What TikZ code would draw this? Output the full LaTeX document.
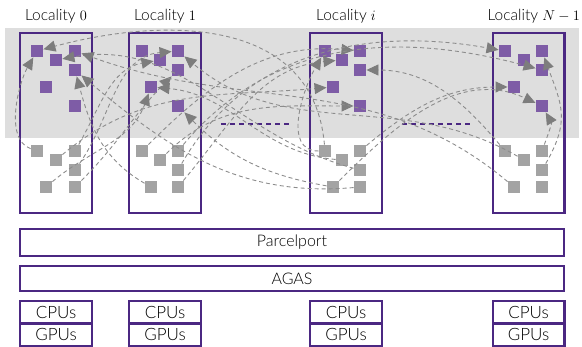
\documentclass[tikz,border=0pt]{standalone}
\usepackage{fontspec}
\setmainfont{Lato Light}
\usetikzlibrary{arrows.meta}

\definecolor{boxpurple}{RGB}{75,40,130}
\definecolor{cellpurple}{RGB}{126,92,166}
\definecolor{cellgray}{RGB}{163,163,163}
\definecolor{bandgray}{RGB}{222,222,222}
\definecolor{linkgray}{RGB}{140,140,140}
\definecolor{tipgray}{RGB}{125,125,125}

\tikzset{
  locbox/.style={draw=boxpurple, line width=2.4pt, minimum width=71.6pt,
    minimum height=179.6pt, inner sep=0pt},
  layerbox/.style={draw=boxpurple, line width=2.4pt, inner sep=0pt,
    minimum width=543.6pt, font=\fontsize{16}{18}\selectfont},
  unitbox/.style={draw=boxpurple, line width=2.4pt, inner sep=0pt,
    minimum width=71.6pt, minimum height=22.3pt, font=\fontsize{17}{19}\selectfont},
  title/.style={font=\fontsize{15.5}{17}\selectfont, inner sep=0pt},
  task/.style={fill=cellpurple, minimum size=12.5pt, inner sep=0pt},
  idle/.style={fill=cellgray, minimum size=12.5pt, inner sep=0pt},
  link/.style={draw=linkgray, line width=0.9pt, dash pattern=on 4pt off 3pt,
    -{Triangle[length=12pt,width=11pt,color=tipgray]}},
  gap/.style={draw=boxpurple, line width=2.6pt, dash pattern=on 5pt off 4pt},
}

% one locality's work items: #1 prefix, #2..#5 column positions
\newcommand\cellgroup[5]{%
  \node[task] (#1A) at (#2,-51) {};
  \node[task] (#1B) at (#3,-60) {};
  \node[task] (#1C) at (#4,-51) {};
  \node[task] (#1D) at (#4,-70) {};
  \node[task] (#1E) at (#5,-87) {};
  \node[task] (#1F) at (#4,-106) {};
  \node[idle] (#1a) at (#2,-151) {};
  \node[idle] (#1b) at (#3,-160) {};
  \node[idle] (#1c) at (#4,-151) {};
  \node[idle] (#1d) at (#4,-170) {};
  \node[idle] (#1e) at (#5,-187) {};
  \node[idle] (#1f) at (#4,-187) {};
}

\begin{document}
\begin{tikzpicture}[x=1pt,y=1pt]
\useasboundingbox (0,0) rectangle (582,-347);

% shaded band of active work
\fill[bandgray] (5,-28) rectangle (579,-138);

% localities
\node[locbox] (L0) at (56,-123) {};
\node[locbox] (L1) at (165,-123) {};
\node[locbox] (Li) at (346,-123) {};
\node[locbox] (LN) at (528.5,-123) {};

\node[title] (t0) at (56,-16) {Locality $0$};
\node[title] (t1) at (165,-16) {Locality $1$};
\node[title] (ti) at (346,-16) {Locality $i$};
\node[title, anchor=east] (tN) at (580,-16) {Locality $N-1$};

% elided localities
\draw[gap] (221,-124) -- (291,-124);
\draw[gap] (402,-124) -- (473,-124);

% work items
\cellgroup{z}{37}{56}{75}{46}
\cellgroup{o}{142}{160}{178}{151}
\cellgroup{i}{325}{342}{360}{333}
\cellgroup{n}{505}{524}{542}{514}

% runtime layers
\node[layerbox, minimum height=26.6pt] (pp) at (292,-242.5) {Parcelport};
\node[layerbox, minimum height=24.6pt] (agas) at (292,-278.5) {AGAS};

\foreach \k/\x in {z/56, o/165, i/346, n/528.5} {
  \node[unitbox] (cpu\k) at (\x,-312.3) {CPUs};
  \node[unitbox] (gpu\k) at (\x,-334.6) {GPUs};
}

% migrations of work
\draw[link] (ia) to[out=95,in=15,looseness=1.1] (zA);
\draw[link] (id) to[out=165,in=10] (zB);
\draw[link] (za) to[out=160,in=240,looseness=0.8] (zA);
\draw[link] (oe) to[out=150,in=-75] (zD);
\draw[link] (if) to[out=185,in=-40] (zD);
\draw[link] (zc) to[out=60,in=190] (oB);
\draw[link] (zd) to[out=55,in=185] (oC);
\draw[link] (nb) to[out=150,in=-40] (oC);
\draw[link] (zf) to[out=45,in=225] (oD);
\draw[link] (ib) to[out=175,in=-5] (oE);
\draw[link] (ze) to[out=40,in=250] (oE);
\draw[link] (ie) to[out=170,in=-45] (oF);
\draw[link] (oa) to[out=45,in=175] (iC);
\draw[link] (of) to[out=50,in=185] (iB);
\draw[link] (ia) to[out=180,in=240] (iA);
\draw[link] (na) to[out=130,in=0] (iD);
\draw[link] (zb) to[out=40,in=185] (iE);
\draw[link] (ob) to[out=45,in=180] (iF);
\draw[link] (od) to[out=60,in=170] (nA);
\draw[link] (oc) to[out=50,in=165] (nD);
\draw[link] (nd) to[out=60,in=-70,looseness=1.2] (nC);
\draw[link] (nc) to[out=70,in=-60] (nF);
\draw[link] (ic) to[out=40,in=180] (nE);
\draw[link] (ie) to[out=45,in=155] (nF);
\draw[link] (ne) to[out=140,in=-20] (zC);
\end{tikzpicture}
\end{document}
